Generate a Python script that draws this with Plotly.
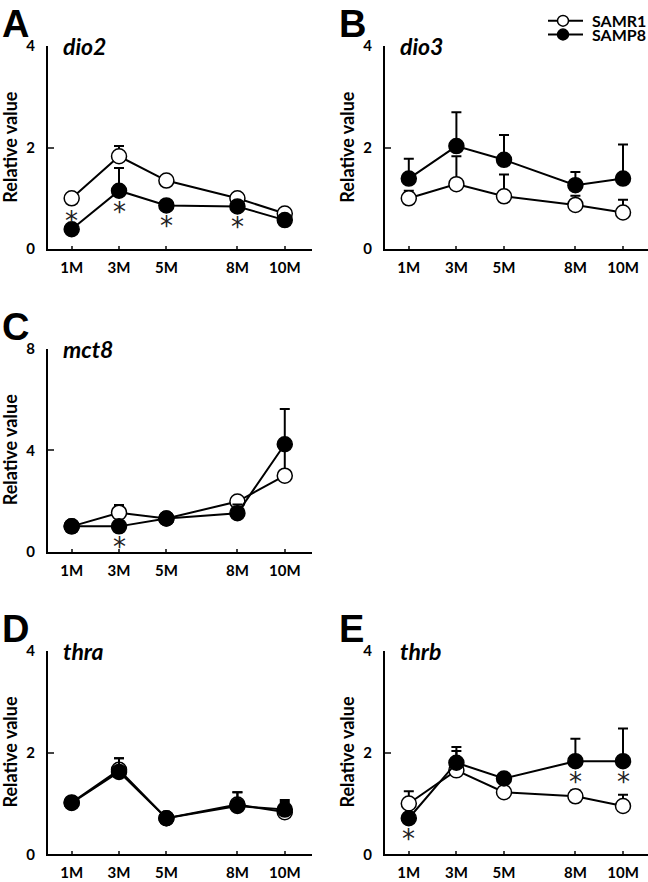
import plotly.graph_objects as go

W, H = 648, 882

months = [1, 3, 5, 8, 10]
month_labels = ["1M", "3M", "5M", "8M", "10M"]
groups = ["SAMR1", "SAMP8"]

# mean and upper SD
dio2_samr1 = [1.00, 1.83, 1.35, 1.00, 0.70]
dio2_samr1_sd = [0.05, 0.20, 0.06, 0.05, 0.06]
dio2_samp8 = [0.39, 1.15, 0.86, 0.84, 0.57]
dio2_samp8_sd = [0.05, 0.45, 0.08, 0.05, 0.05]
dio2_sig = [1, 3, 5, 8]

dio3_samr1 = [1.00, 1.28, 1.04, 0.87, 0.72]
dio3_samr1_sd = [0.15, 0.55, 0.43, 0.18, 0.25]
dio3_samp8 = [1.39, 2.03, 1.76, 1.26, 1.39]
dio3_samp8_sd = [0.39, 0.67, 0.49, 0.26, 0.67]
dio3_sig = []

mct8_samr1 = [1.00, 1.54, 1.31, 1.98, 3.00]
mct8_samr1_sd = [0.10, 0.30, 0.10, 0.10, 1.20]
mct8_samp8 = [1.00, 1.00, 1.31, 1.52, 4.24]
mct8_samp8_sd = [0.10, 0.10, 0.10, 0.34, 1.39]
mct8_sig = [3]

thra_samr1 = [1.02, 1.66, 0.71, 0.98, 0.83]
thra_samr1_sd = [0.08, 0.23, 0.05, 0.24, 0.20]
thra_samp8 = [1.01, 1.62, 0.71, 0.95, 0.88]
thra_samp8_sd = [0.08, 0.27, 0.05, 0.27, 0.19]
thra_sig = []

thrb_samr1 = [1.00, 1.65, 1.22, 1.14, 0.95]
thrb_samr1_sd = [0.24, 0.38, 0.05, 0.12, 0.22]
thrb_samp8 = [0.71, 1.80, 1.49, 1.83, 1.83]
thrb_samp8_sd = [0.05, 0.31, 0.06, 0.44, 0.64]
thrb_sig = [1, 8, 10]

panels = [
    ("A", "dio2", 4, dio2_samr1, dio2_samr1_sd, dio2_samp8, dio2_samp8_sd, dio2_sig),
    ("B", "dio3", 4, dio3_samr1, dio3_samr1_sd, dio3_samp8, dio3_samp8_sd, dio3_sig),
    ("C", "mct8", 8, mct8_samr1, mct8_samr1_sd, mct8_samp8, mct8_samp8_sd, mct8_sig),
    ("D", "thra", 4, thra_samr1, thra_samr1_sd, thra_samp8, thra_samp8_sd, thra_sig),
    ("E", "thrb", 4, thrb_samr1, thrb_samr1_sd, thrb_samp8, thrb_samp8_sd, thrb_sig),
]

# pixel boxes of each plot area: left, right, top, bottom, x range max
boxes = {
    "A": (48, 312, 37, 244, 11.15),
    "B": (385, 648, 37, 244, 11.05),
    "C": (48, 312, 346, 553, 11.15),
    "D": (48, 312, 654, 862, 11.15),
    "E": (385, 648, 654, 862, 11.05),
}
# asterisk above the SAMP8 point instead of below
star_above = {("A", 1)}

FONT = "Lato"
LETTER_FONT = "Liberation Sans"


def fx(p):
    return p / W


def fy(p):
    return 1 - p / H


fig = go.Figure()
annotations = []
shapes = []

for i, (letter, gene, ymax, r1, r1sd, p8, p8sd, sig) in enumerate(panels):
    n = "" if i == 0 else str(i + 1)
    left, right, top, bottom, xmax = boxes[letter]
    for name, vals, sd, fill in [("SAMR1", r1, r1sd, "white"), ("SAMP8", p8, p8sd, "black")]:
        fig.add_trace(go.Scatter(
            x=months, y=vals, mode="lines+markers", name=name, showlegend=False,
            xaxis="x" + n, yaxis="y" + n,
            line=dict(color="black", width=2),
            marker=dict(size=15, color=fill, line=dict(color="black", width=1.5)),
            error_y=dict(type="data", symmetric=False, array=sd, arrayminus=[0] * len(sd),
                         color="black", thickness=2, width=5),
            cliponaxis=False,
        ))
    fig.layout["xaxis" + n] = dict(
        domain=[fx(left), fx(right)], range=[0, xmax], anchor="y" + n,
        tickvals=months, ticktext=month_labels, ticks="inside", ticklen=3, tickwidth=1.5,
        showline=True, linecolor="black", linewidth=2, showgrid=False, zeroline=False,
        tickfont=dict(family=FONT, size=15, color="black", weight="bold"),
        ticklabelstandoff=4, fixedrange=True,
    )
    fig.layout["yaxis" + n] = dict(
        domain=[fy(bottom), fy(top)], range=[0, ymax], anchor="x" + n,
        tickvals=[0, ymax / 2, ymax], ticks="inside", ticklen=6, tickwidth=1.5,
        showline=True, linecolor="black", linewidth=2, showgrid=False, zeroline=False,
        tickfont=dict(family=FONT, size=15, color="black", weight="bold"),
        ticklabelstandoff=8, fixedrange=True,
    )
    # panel letter
    annotations.append(dict(
        text=letter, xref="paper", yref="paper", x=fx(left - 48), y=fy((top + bottom) / 2 - 126),
        xanchor="left", yanchor="middle", showarrow=False,
        font=dict(family=LETTER_FONT, size=38, color="black", weight="bold"),
    ))
    # gene name
    annotations.append(dict(
        text="<b><i>%s</i></b>" % gene, xref="paper", yref="paper", x=fx(left + 13), y=fy(top),
        xanchor="left", yanchor="middle", showarrow=False,
        font=dict(family=FONT, size=23, color="black"),
    ))
    # y title
    annotations.append(dict(
        text="<b>Relative value</b>", xref="paper", yref="paper", x=fx(left - 38), y=fy((top + bottom) / 2),
        xanchor="center", yanchor="middle", textangle=-90, showarrow=False,
        font=dict(family=FONT, size=18, color="black"),
    ))
    # significance marks
    for m in sig:
        v = p8[months.index(m)]
        above = (letter, m) in star_above
        annotations.append(dict(
            text="*", xref="x" + n, yref="y" + n, x=m, y=v,
            xanchor="center", yanchor="middle", showarrow=False,
            yshift=8 if above else -21,
            font=dict(family="DejaVu Sans", size=26, color="#222222"),
        ))

# legend drawn by hand
for k, (name, fill) in enumerate([("SAMR1", "white"), ("SAMP8", "black")]):
    yy = 11 + 14 * k
    shapes.append(dict(type="line", xref="paper", yref="paper", x0=fx(548), x1=fx(583), y0=fy(yy), y1=fy(yy),
                       line=dict(color="black", width=2)))
    shapes.append(dict(type="circle", xref="paper", yref="paper", x0=fx(557.5), x1=fx(568.5),
                       y0=fy(yy + 5.5), y1=fy(yy - 5.5), fillcolor=fill, line=dict(color="black", width=1.5)))
    annotations.append(dict(
        text="<b>%s</b>" % name, xref="paper", yref="paper", x=fx(590), y=fy(yy),
        xanchor="left", yanchor="middle", showarrow=False,
        font=dict(family=FONT, size=16, color="black"),
    ))

fig.update_layout(
    width=W, height=H, margin=dict(l=0, r=0, t=0, b=0),
    paper_bgcolor="white", plot_bgcolor="white",
    annotations=annotations, shapes=shapes, showlegend=False,
)

# drop the page's default body margin so the figure sits at the window corner
fig.write_html("out.html", config={"displayModeBar": False},
               post_script="document.body.style.margin='0';document.body.style.overflow='hidden';")
